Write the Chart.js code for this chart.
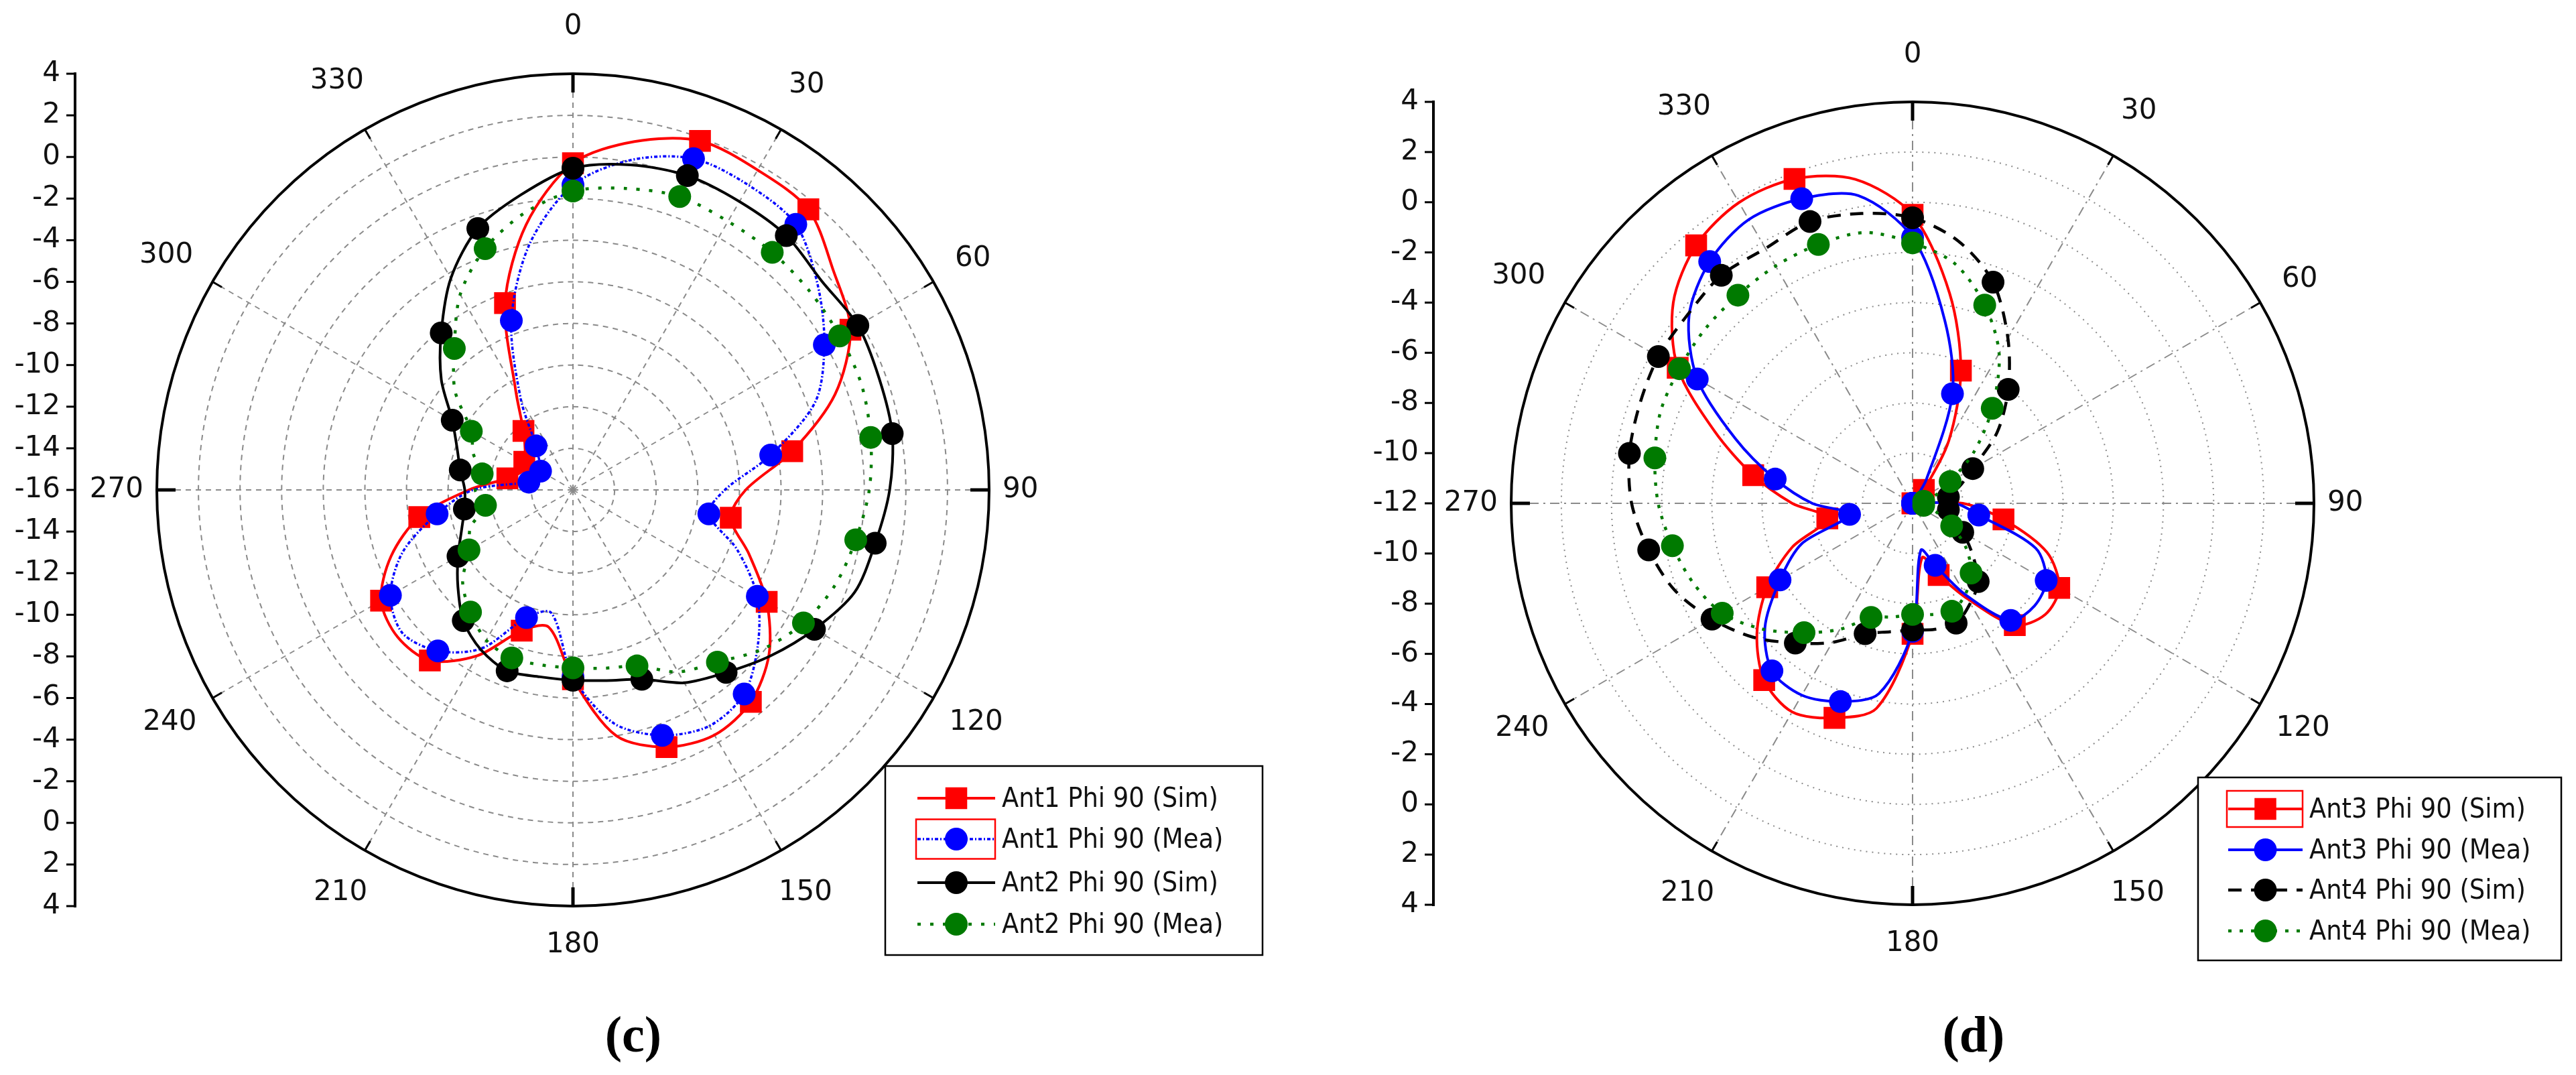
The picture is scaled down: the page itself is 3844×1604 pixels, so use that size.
<!DOCTYPE html>
<html>
<head>
<meta charset="utf-8">
<script src="https://cdn.jsdelivr.net/npm/chart.js@4.4.0/dist/chart.umd.min.js"></script>
<style>
  html, body { margin: 0; padding: 0; background: #fff; }
  body { width: 3844px; height: 1604px; position: relative; overflow: hidden; }
  canvas { position: absolute; top: 0; }
  #chartC { left: 0; }
  #chartD { left: 1922px; }
  .cap { position: absolute; top: 1500px; width: 200px; text-align: center; line-height: 90px;
         font: bold 76px "Liberation Serif", "DejaVu Serif", serif; color: #000; }
</style>
</head>
<body>
<canvas id="chartC" width="1922" height="1604"></canvas>
<canvas id="chartD" width="1922" height="1604"></canvas>
<div class="cap" style="left:845px">(c)</div>
<div class="cap" style="left:2845px">(d)</div>
<script>
// angle categories (deg, clockwise from top)
const angles = [0, 10, 20, 30, 40, 50, 60, 70, 80, 90, 100, 110, 120, 130, 140, 150, 160, 170,
  180, 190, 200, 210, 220, 230, 240, 250, 260, 270, 280, 290, 300, 310, 320, 330, 340, 350];
const angleTicks = [0, 30, 60, 90, 120, 150, 180, 210, 240, 270, 300, 330];
const ticksC = [4, 2, 0, -2, -4, -6, -8, -10, -12, -14, -16];
const ticksD = [4, 2, 0, -2, -4, -6, -8, -10, -12];

// panel (c) - dB
const ant1Sim = [-0.3, 1.0, 1.85, 1.75, 1.6, 0.35, -0.6, -2.6, -5.3, -7.7, -8.3, -7.0, -5.25, -3.7, -2.7, -2.4, -2.85, -4.0,
  -6.9, -9.3, -8.8, -6.8, -5.3, -5.0, -5.35, -6.7, -8.5, -11.0, -12.8, -13.4, -13.3, -13.0, -12.3, -10.5, -6.45, -3.05];
const ant1Mea = [-1.35, 0.1, 0.94, 0.9, 0.66, -0.65, -2.05, -3.6, -6.35, -8.7, -9.37, -7.6, -5.77, -4.4, -3.2, -2.9, -3.45, -4.6,
  -7.0, -10.0, -9.47, -7.2, -5.9, -5.3, -5.87, -7.3, -9.37, -11.2, -13.85, -14.4, -14.2, -13.9, -13.24, -11.0, -7.34, -4.0];
const ant2Sim = [-0.54, -0.14, 0.07, 0.0, -0.05, -0.39, -0.19, -0.34, -0.42, -0.78, -1.25, -1.6, -2.6, -3.6, -4.55, -5.3, -6.32, -6.7,
  -6.85, -6.88, -6.75, -7.14, -7.8, -8.78, -9.62, -10.3, -10.7, -10.8, -10.5, -10.07, -9.3, -7.74, -6.15, -4.26, -2.63, -1.6];
const ant2Mea = [-1.64, -1.29, -1.0, -1.1, -1.1, -1.15, -1.2, -1.24, -1.47, -1.76, -2.2, -2.6, -3.21, -4.1, -5.2, -5.9, -7.0, -7.3,
  -7.45, -7.45, -7.41, -7.66, -8.34, -9.08, -10.23, -10.76, -11.73, -11.3, -11.57, -10.9, -10.36, -8.6, -7.13, -5.16, -3.66, -2.5];

// panel (d) - dB (values at the plot centre are read as the -12 floor)
const ant3Sim = [-0.5, -3.5, -6.37, -9.1, -11.3, -12, -12, -12, -12, -10.0, -8.32, -6.3, -5.25, -5.1, -5.66, -7.6, -8.96, -9.8,
  -6.8, -3.7, -2.9, -2.4, -2.8, -3.9, -5.31, -6.9, -8.55, -7.2, -5.55, -3.6, -1.19, 0.45, 1.42, 1.84, 1.76, 1.11];
const ant3Mea = [-1.4, -4.6, -7.35, -10.9, -12, -12, -12, -12, -12, -10.3, -9.32, -6.78, -5.85, -5.65, -5.91, -7.8, -9.37, -10.1,
  -6.9, -4.3, -3.59, -3.17, -3.28, -4.32, -5.9, -7.3, -9.45, -8.0, -6.44, -4.49, -2.09, -0.37, 0.58, 1.06, 0.92, 0.45];
const ant4Sim = [-0.62, -1.4, -2.62, -4.4, -6.07, -7.6, -9.23, -10.0, -10.55, -10.6, -10.55, -10.3, -9.69, -8.9, -7.93, -7.4, -6.92, -6.9,
  -6.95, -6.8, -6.47, -5.6, -4.73, -3.7, -2.77, -1.9, -1.32, -0.8, -0.54, -0.43, -0.3, -0.3, -0.14, -0.27, -0.05, -0.27];
const ant4Mea = [-1.62, -2.3, -3.59, -5.1, -7.06, -8.8, -10.27, -11.0, -11.55, -11.6, -11.55, -11.0, -10.2, -9.2, -8.37, -7.8, -7.42, -7.5,
  -7.57, -7.4, -7.16, -6.2, -5.27, -4.2, -3.24, -2.7, -2.28, -1.86, -1.57, -1.31, -1.27, -1.2, -1.17, -1.08, -1.02, -1.04];

const namesC = ['Ant1 Phi 90 (Sim)', 'Ant1 Phi 90 (Mea)', 'Ant2 Phi 90 (Sim)', 'Ant2 Phi 90 (Mea)'];
const namesD = ['Ant3 Phi 90 (Sim)', 'Ant3 Phi 90 (Mea)', 'Ant4 Phi 90 (Sim)', 'Ant4 Phi 90 (Mea)'];

const markSize = style => style === 'rect' ? 23 : 17;

function series(label, data, color, style, dash, width, order) {
  return {
    label, data,
    borderColor: color,
    backgroundColor: color,
    pointBackgroundColor: color,
    borderWidth: width,
    borderDash: dash,
    pointStyle: style,
    pointRadius: c => c.index % 2 === 0 ? markSize(style) : 0,
    pointBorderWidth: 0,
    fill: false,
    tension: 0.3,
    order
  };
}

function radial(min, ringDash, spokeDash) {
  return {
    min, max: 4,
    ticks: { stepSize: 2, display: false },
    pointLabels: { display: false },
    grid: { circular: true, lineWidth: 2, color: c => c.tick && c.tick.value === 4 ? 'rgba(0,0,0,0)' : '#8a8a8a' },
    border: { dash: ringDash },
    angleLines: { color: '#8a8a8a', lineWidth: c => c.index % 3 === 0 ? 2 : 0, borderDash: spokeDash }
  };
}

// outer ring, angle labels, the straight radial axis on the left and the legend box
const decor = {
  id: 'decor',
  afterDraw(chart, args, o) {
    const ctx = chart.ctx, s = chart.scales.r;
    const cx = s.xCenter, cy = s.yCenter;
    const R = s.getDistanceFromCenterForValue(s.max);
    ctx.save();
    ctx.strokeStyle = '#000';
    ctx.setLineDash([]);
    ctx.lineWidth = 4;
    ctx.beginPath();
    ctx.arc(cx, cy, R, 0, Math.PI * 2);
    ctx.stroke();

    ctx.font = '42px "DejaVu Sans", sans-serif';
    ctx.fillStyle = '#111';
    ctx.textAlign = 'center';
    ctx.textBaseline = 'middle';
    angleTicks.forEach(a => {
      const i = angles.indexOf(a);
      const major = a % 90 === 0;
      const p = s.getPointPosition(i, R);
      const q = s.getPointPosition(i, R - (major ? 28 : 16));
      ctx.lineWidth = major ? 5 : 3;
      ctx.beginPath();
      ctx.moveTo(p.x, p.y);
      ctx.lineTo(q.x, q.y);
      ctx.stroke();
      const t = a * Math.PI / 180;
      const w = ctx.measureText(String(a)).width;
      const d = R + 20 + Math.abs(Math.sin(t)) * w / 2 + Math.abs(Math.cos(t)) * (Math.cos(t) > 0 ? 50 : 38);
      const l = s.getPointPosition(i, d);
      ctx.fillText(String(a), l.x, l.y);
    });

    const x = o.axisX;
    ctx.lineWidth = 4;
    ctx.beginPath();
    ctx.moveTo(x, cy - R - 2);
    ctx.lineTo(x, cy + R + 2);
    ctx.stroke();
    ctx.textAlign = 'right';
    o.ticks.forEach(v => {
      const d = s.getDistanceFromCenterForValue(v);
      const ys = d === 0 ? [cy] : [cy - d, cy + d];
      ys.forEach(y => {
        ctx.lineWidth = 3;
        ctx.beginPath();
        ctx.moveTo(x - 13, y);
        ctx.lineTo(x, y);
        ctx.stroke();
        ctx.fillText(String(v), x - 22, y);
      });
    });

    const L = o.legend;
    ctx.fillStyle = '#fff';
    ctx.fillRect(L.x, L.y, L.w, L.h);
    ctx.lineWidth = 2.5;
    ctx.strokeStyle = '#000';
    ctx.strokeRect(L.x, L.y, L.w, L.h);
    ctx.textAlign = 'left';
    ctx.font = '41px "DejaVu Sans Condensed", "DejaVu Sans", sans-serif';
    chart.data.datasets.forEach((ds, i) => {
      const y = L.rows[i];
      ctx.strokeStyle = ds.borderColor;
      ctx.lineWidth = ds.borderWidth;
      ctx.setLineDash(ds.borderDash);
      ctx.beginPath();
      ctx.moveTo(L.x0, y);
      ctx.lineTo(L.x1, y);
      ctx.stroke();
      ctx.setLineDash([]);
      ctx.fillStyle = ds.borderColor;
      Chart.helpers.drawPoint(ctx, { pointStyle: ds.pointStyle, radius: markSize(ds.pointStyle), rotation: 0, borderWidth: 0 }, (L.x0 + L.x1) / 2, y);
      if (i === L.sel) {
        ctx.strokeStyle = '#f00';
        ctx.lineWidth = 2.5;
        ctx.strokeRect(L.x0 - 2, y - L.selH / 2, L.x1 - L.x0 + 2, L.selH);
      }
      ctx.fillStyle = '#111';
      ctx.fillText(ds.label, L.tx, y + 2);
    });
    ctx.restore();
  }
};

function makeChart(id, min, sets, pad, axisX, ticks, legend, ringDash, spokeDash) {
  return new Chart(document.getElementById(id), {
    type: 'radar',
    data: { labels: angles.map(String), datasets: sets },
    options: {
      responsive: false,
      animation: false,
      events: [],
      layout: { padding: pad },
      scales: { r: radial(min, ringDash, spokeDash) },
      plugins: {
        legend: { display: false },
        tooltip: { enabled: false },
        decor: { axisX, ticks, legend }
      }
    },
    plugins: [decor]
  });
}

makeChart('chartC', -16, [
  series(namesC[0], ant1Sim, '#ff0000', 'rect', [], 4, 4),
  series(namesC[1], ant1Mea, '#0000ff', 'circle', [5, 3, 2, 3], 3.5, 3),
  series(namesC[2], ant2Sim, '#000000', 'circle', [], 4, 2),
  series(namesC[3], ant2Mea, '#007a00', 'circle', [5, 14], 4.5, 1)
], { left: 234, right: 446, top: 110, bottom: 252 }, 112, ticksC,
  { x: 1321, y: 1143, w: 563, h: 282, rows: [1191, 1252, 1317, 1379], x0: 1369, x1: 1485, tx: 1495, sel: 1, selH: 59 },
  [8, 7], [8, 7]);

makeChart('chartD', -12, [
  series(namesD[0], ant3Sim, '#ff0000', 'rect', [], 4, 4),
  series(namesD[1], ant3Mea, '#0000ff', 'circle', [], 4, 3),
  series(namesD[2], ant4Sim, '#000000', 'circle', [20, 14], 4.5, 2),
  series(namesD[3], ant4Mea, '#007a00', 'circle', [5, 12], 4.5, 1)
], { left: 333, right: 391, top: 152, bottom: 254 }, 217, ticksD,
  { x: 1358, y: 1160, w: 542, h: 273, rows: [1207, 1268, 1328, 1389], x0: 1403, x1: 1514, tx: 1524, sel: 0, selH: 54 },
  [2, 7], [14, 7, 3, 7]);
</script>
</body>
</html>
